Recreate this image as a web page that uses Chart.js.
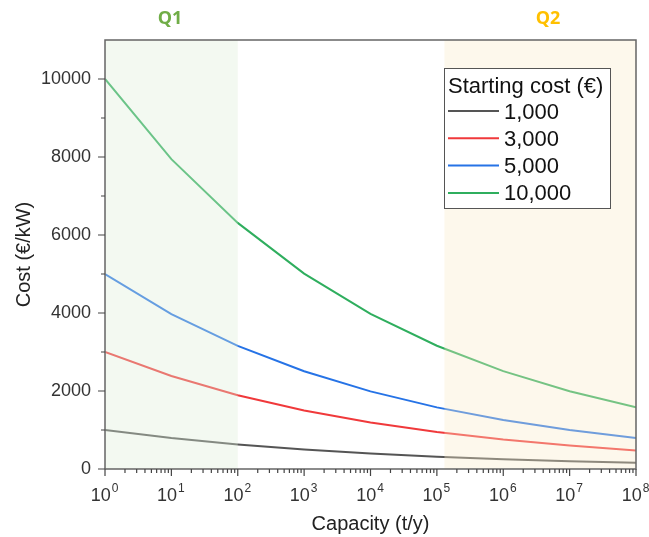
<!DOCTYPE html>
<html>
<head>
<meta charset="utf-8">
<script src="https://cdn.jsdelivr.net/npm/chart.js@4"></script>
<style>
  html, body { margin: 0; padding: 0; background: #fff; }
  #wrap { width: 649px; height: 537px; }
</style>
</head>
<body>
<div id="wrap"><canvas id="costChart" width="649" height="537"></canvas></div>
<script>
// values (cost per decade of capacity)
const capacity = [1, 10, 100, 1e3, 1e4, 1e5, 1e6, 1e7, 1e8];
const cost1000 = [1000, 795, 630, 500, 400, 315, 250, 200, 160];
const cost3000 = [3000, 2385, 1890, 1500, 1195, 950, 755, 600, 475];
const cost5000 = [5000, 3970, 3155, 2505, 1990, 1580, 1255, 1000, 795];
const cost10000 = [10000, 7945, 6310, 5010, 3980, 3160, 2510, 1995, 1585];
const seriesLabels = ["1,000", "3,000", "5,000", "10,000"];
const seriesColors = ["#555555", "#f0393b", "#2673e6", "#2fae5e"];
const yMajorTicks = [0, 2000, 4000, 6000, 8000, 10000];
const xExponents = [0, 1, 2, 3, 4, 5, 6, 7, 8];
const q1Range = [1, 100];
const q2Range = [1.3e5, 1e8];

const font = "Arial, 'Liberation Sans', sans-serif";
const qFont = "'Open Sans', Lato, sans-serif";

const allSeries = [cost1000, cost3000, cost5000, cost10000];
const datasets = allSeries.map((vals, i) => ({
  label: seriesLabels[i],
  data: vals.map((v, j) => ({ x: capacity[j], y: v })),
  borderColor: seriesColors[i],
  borderWidth: 2,
  pointRadius: 0,
  tension: 0,
  fill: false,
}));

// shaded zones drawn over the lines so the lines look paler inside them
const zonePlugin = {
  id: "zones",
  afterDatasetsDraw(chart) {
    const { ctx, chartArea: a, scales } = chart;
    const x = scales.x;
    ctx.save();
    ctx.beginPath();
    ctx.rect(a.left, a.top, a.right - a.left, a.bottom - a.top);
    ctx.clip();
    const zones = [
      { r: q1Range, c: "rgba(221,238,215,0.35)" },
      { r: q2Range, c: "rgba(249,235,201,0.35)" },
    ];
    zones.forEach((z) => {
      const x0 = x.getPixelForValue(z.r[0]);
      const x1 = x.getPixelForValue(z.r[1]);
      ctx.fillStyle = z.c;
      ctx.fillRect(x0, a.top, x1 - x0, a.bottom - a.top);
    });
    ctx.restore();
  },
  afterDraw(chart) {
    const { ctx, chartArea: a, scales } = chart;
    const x = scales.x, y = scales.y;
    ctx.save();
    // frame
    ctx.strokeStyle = "#666";
    ctx.lineWidth = 1.5;
    ctx.beginPath();
    ctx.moveTo(a.left, a.bottom);
    ctx.lineTo(a.left, a.top);
    ctx.lineTo(a.right, a.top);
    ctx.lineTo(a.right, a.bottom);
    ctx.lineTo(a.left, a.bottom);
    ctx.stroke();

    // x ticks: majors at decades, minors at 2..9
    ctx.lineWidth = 1.2;
    ctx.strokeStyle = "#444";
    ctx.beginPath();
    for (let d = 0; d < 8; d++) {
      for (let m = 1; m < 10; m++) {
        const px = x.getPixelForValue(m * Math.pow(10, d));
        const len = m === 1 ? 7 : 4;
        ctx.moveTo(px, a.bottom);
        ctx.lineTo(px, a.bottom + len);
      }
    }
    const pLast = x.getPixelForValue(1e8);
    ctx.moveTo(pLast, a.bottom);
    ctx.lineTo(pLast, a.bottom + 7);
    // y ticks
    for (let v = 0; v <= 10000; v += 1000) {
      const py = y.getPixelForValue(v);
      const len = v % 2000 === 0 ? 7 : 4;
      ctx.moveTo(a.left, py);
      ctx.lineTo(a.left - len, py);
    }
    ctx.stroke();

    // x tick labels 10^n
    ctx.fillStyle = "#333";
    ctx.textBaseline = "alphabetic";
    ctx.textAlign = "left";
    xExponents.forEach((e) => {
      const px = x.getPixelForValue(Math.pow(10, e));
      ctx.font = "18px " + font;
      const wb = ctx.measureText("10").width;
      ctx.font = "12px " + font;
      const we = ctx.measureText(String(e)).width;
      const x0 = px - (wb + we) / 2 - 1;
      ctx.font = "18px " + font;
      ctx.fillText("10", x0, a.bottom + 32);
      ctx.font = "12px " + font;
      ctx.fillText(String(e), x0 + wb + 1, a.bottom + 23);
    });

    // zone labels
    ctx.font = "bold 18px " + qFont;
    ctx.textAlign = "center";
    ctx.textBaseline = "middle";
    ctx.fillStyle = "#70ad47";
    ctx.fillText("Q1", 170, 19);
    ctx.fillStyle = "#ffc000";
    ctx.fillText("Q2", 548, 19);

    // legend box
    const bx = 444, by = 68, bw = 166, bh = 140;
    ctx.fillStyle = "#fff";
    ctx.fillRect(bx, by, bw, bh);
    ctx.strokeStyle = "#555";
    ctx.lineWidth = 1;
    ctx.strokeRect(bx + 0.5, by + 0.5, bw, bh);
    ctx.textAlign = "left";
    ctx.textBaseline = "alphabetic";
    ctx.fillStyle = "#111";
    ctx.font = "22px " + font;
    ctx.fillText("Starting cost (\u20ac)", bx + 4, by + 25);
    chart.data.datasets.forEach((ds, i) => {
      const ly = by + 43 + i * 27.3;
      ctx.strokeStyle = ds.borderColor;
      ctx.lineWidth = 2;
      ctx.beginPath();
      ctx.moveTo(bx + 4, ly);
      ctx.lineTo(bx + 55, ly);
      ctx.stroke();
      ctx.fillStyle = "#111";
      ctx.fillText(ds.label, bx + 60, ly + 7.5);
    });
    ctx.restore();
  },
};

new Chart(document.getElementById("costChart").getContext("2d"), {
  type: "line",
  data: { datasets: datasets },
  options: {
    responsive: false,
    animation: false,
    layout: { padding: { left: 12, right: 13, top: 40, bottom: 0 } },
    plugins: {
      legend: { display: false },
      tooltip: { enabled: false },
    },
    scales: {
      x: {
        type: "logarithmic",
        min: 1,
        max: 1e8,
        grid: { display: false },
        border: { display: false },
        afterFit(scale) { scale.height = 68; },
        ticks: { display: false },
        title: {
          display: true,
          text: "Capacity (t/y)",
          color: "#222",
          font: { family: font, size: 20 },
          padding: { top: 0, bottom: 1 },
        },
      },
      y: {
        min: 0,
        max: 11000,
        grid: { display: false },
        border: { display: false },
        afterFit(scale) { scale.width = 93; },
        afterBuildTicks(scale) {
          scale.ticks = yMajorTicks.map((v) => ({ value: v }));
        },
        ticks: {
          padding: 6,
          color: "#333",
          font: { family: font, size: 18 },
          callback: (v) => String(v),
        },
        title: {
          display: true,
          text: "Cost (\u20ac/kW)",
          color: "#222",
          font: { family: font, size: 20 },
          padding: { top: 0, bottom: 0 },
        },
      },
    },
  },
  plugins: [zonePlugin],
});
</script>
</body>
</html>
